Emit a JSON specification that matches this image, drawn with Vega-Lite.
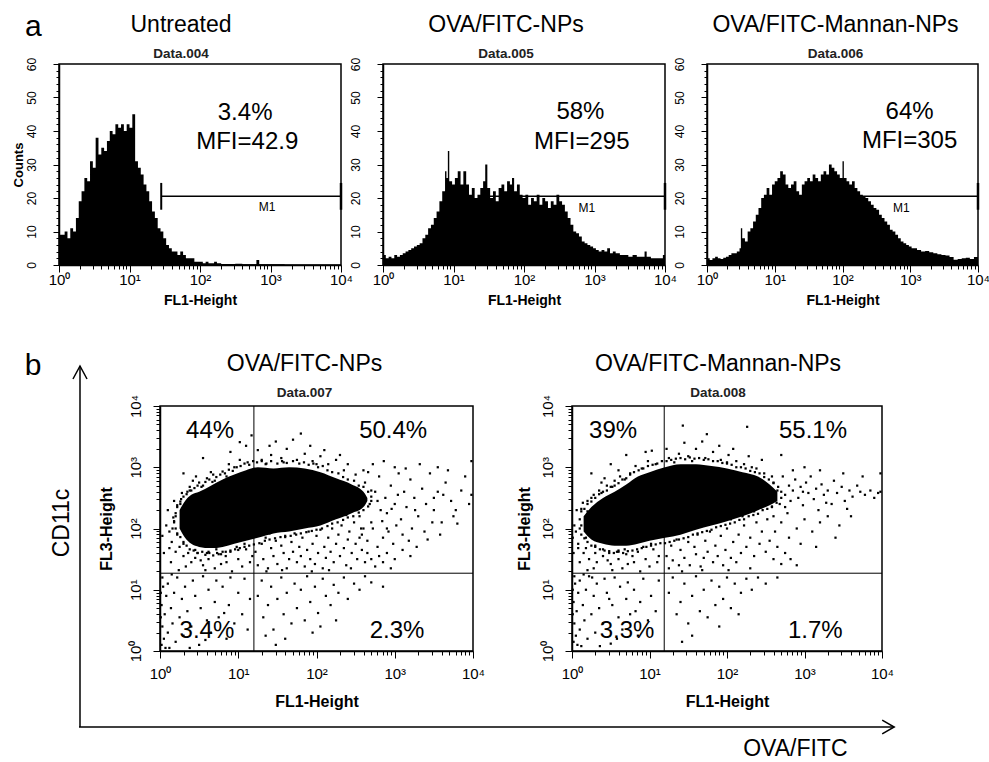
{
"$schema": "https://vega.github.io/schema/vega-lite/v6.json",
"padding": {"left": 11, "top": 12, "right": 2, "bottom": 0},
"config": {
 "font": "Liberation Sans",
 "mark": {"color": "black"},
 "view": {"stroke": "black", "strokeWidth": 1.5},
 "axis": {"domainColor": "black", "domainWidth": 1.5, "tickColor": "black", "tickWidth": 1, "labelColor": "black", "titleColor": "black", "grid": false, "labelFont": "Liberation Sans", "titleFont": "Liberation Sans", "labelFontSize": 15, "labelOverlap": false, "labelFlush": false},
 "title": {"font": "Liberation Sans", "fontSize": 23, "fontWeight": "normal", "color": "black", "subtitleFont": "Liberation Sans", "subtitleFontSize": 13.5, "subtitleFontWeight": "bold", "subtitleColor": "#222", "offset": -3, "subtitlePadding": 10, "anchor": "middle", "frame": "group"}
},
"datasets": {
 "one": [{}],
 "h1": [{"x":0,"c":33},{"x":0.012,"c":9},{"x":0.04,"c":9},{"x":0.08,"c":10},{"x":0.12,"c":8},{"x":0.16,"c":11},{"x":0.2,"c":10},{"x":0.24,"c":14},{"x":0.28,"c":19},{"x":0.32,"c":22},{"x":0.36,"c":26},{"x":0.4,"c":25},{"x":0.44,"c":31},{"x":0.48,"c":29},{"x":0.52,"c":38},{"x":0.56,"c":33},{"x":0.6,"c":35},{"x":0.64,"c":34},{"x":0.68,"c":37},{"x":0.72,"c":40},{"x":0.76,"c":39},{"x":0.8,"c":42},{"x":0.84,"c":41},{"x":0.88,"c":42},{"x":0.92,"c":40},{"x":0.96,"c":42},{"x":1,"c":41},{"x":1.04,"c":45},{"x":1.08,"c":31},{"x":1.12,"c":29},{"x":1.16,"c":27},{"x":1.2,"c":24},{"x":1.24,"c":22},{"x":1.28,"c":19},{"x":1.32,"c":16},{"x":1.36,"c":14},{"x":1.4,"c":11},{"x":1.44,"c":10},{"x":1.48,"c":8},{"x":1.52,"c":6},{"x":1.56,"c":5},{"x":1.6,"c":4},{"x":1.64,"c":4},{"x":1.68,"c":3},{"x":1.72,"c":4},{"x":1.76,"c":3},{"x":1.8,"c":2},{"x":1.84,"c":2},{"x":1.88,"c":2},{"x":1.92,"c":1},{"x":1.96,"c":1},{"x":2,"c":1},{"x":2.04,"c":0.5},{"x":2.08,"c":1},{"x":2.12,"c":0.5},{"x":2.2,"c":1},{"x":2.24,"c":0.5},{"x":2.3,"c":0.3},{"x":2.5,"c":0.4},{"x":2.6,"c":0.2},{"x":2.8,"c":1.5},{"x":2.84,"c":0.2},{"x":3.2,"c":0.1},{"x":4,"c":0}],
 "h2": [{"x":0,"c":3},{"x":0.04,"c":2},{"x":0.08,"c":2.5},{"x":0.12,"c":2},{"x":0.16,"c":3},{"x":0.2,"c":2.5},{"x":0.24,"c":3},{"x":0.28,"c":3.5},{"x":0.32,"c":4},{"x":0.36,"c":4.5},{"x":0.4,"c":5},{"x":0.44,"c":5.5},{"x":0.48,"c":6},{"x":0.52,"c":6.5},{"x":0.56,"c":8},{"x":0.6,"c":9},{"x":0.64,"c":11},{"x":0.68,"c":12},{"x":0.72,"c":14},{"x":0.76,"c":16},{"x":0.8,"c":19},{"x":0.84,"c":22},{"x":0.88,"c":28},{"x":0.9,"c":26},{"x":0.92,"c":34},{"x":0.94,"c":25},{"x":0.98,"c":24},{"x":1.02,"c":26},{"x":1.06,"c":28},{"x":1.1,"c":24},{"x":1.14,"c":28},{"x":1.18,"c":24},{"x":1.22,"c":21},{"x":1.26,"c":23},{"x":1.3,"c":20},{"x":1.34,"c":21},{"x":1.38,"c":23},{"x":1.42,"c":25},{"x":1.45,"c":30},{"x":1.48,"c":23},{"x":1.52,"c":20},{"x":1.56,"c":22},{"x":1.6,"c":19},{"x":1.64,"c":23},{"x":1.68,"c":24},{"x":1.72,"c":22},{"x":1.76,"c":25},{"x":1.8,"c":24},{"x":1.83,"c":26},{"x":1.86,"c":22},{"x":1.9,"c":24},{"x":1.94,"c":21},{"x":1.98,"c":20},{"x":2.02,"c":21},{"x":2.06,"c":18},{"x":2.1,"c":20},{"x":2.14,"c":19},{"x":2.18,"c":21},{"x":2.22,"c":18},{"x":2.26,"c":20},{"x":2.3,"c":19},{"x":2.34,"c":17},{"x":2.38,"c":19},{"x":2.42,"c":18},{"x":2.46,"c":21},{"x":2.5,"c":19},{"x":2.54,"c":18},{"x":2.58,"c":16},{"x":2.62,"c":14},{"x":2.66,"c":12},{"x":2.7,"c":10},{"x":2.74,"c":9.5},{"x":2.78,"c":8.5},{"x":2.82,"c":7},{"x":2.86,"c":6.5},{"x":2.9,"c":6},{"x":2.94,"c":5.5},{"x":2.98,"c":5},{"x":3.02,"c":4.5},{"x":3.06,"c":4},{"x":3.1,"c":4.5},{"x":3.14,"c":4},{"x":3.18,"c":5},{"x":3.22,"c":3.5},{"x":3.26,"c":4},{"x":3.3,"c":3.5},{"x":3.36,"c":3},{"x":3.42,"c":3},{"x":3.48,"c":2.5},{"x":3.54,"c":3},{"x":3.6,"c":2.5},{"x":3.66,"c":2.5},{"x":3.71,"c":4},{"x":3.74,"c":2.5},{"x":3.8,"c":2},{"x":3.86,"c":2},{"x":3.92,"c":2},{"x":3.97,"c":3},{"x":4,"c":3}],
 "h3": [{"x":0,"c":2},{"x":0.04,"c":1.5},{"x":0.08,"c":2},{"x":0.12,"c":2.5},{"x":0.16,"c":2},{"x":0.2,"c":1.8},{"x":0.24,"c":2.2},{"x":0.28,"c":2.5},{"x":0.32,"c":3},{"x":0.36,"c":3.5},{"x":0.4,"c":3.5},{"x":0.44,"c":4},{"x":0.48,"c":5},{"x":0.5,"c":11},{"x":0.52,"c":8},{"x":0.56,"c":7},{"x":0.6,"c":10},{"x":0.64,"c":11},{"x":0.68,"c":13},{"x":0.72,"c":15},{"x":0.76,"c":17},{"x":0.8,"c":20},{"x":0.84,"c":21},{"x":0.88,"c":23},{"x":0.92,"c":21},{"x":0.96,"c":24},{"x":1,"c":25},{"x":1.04,"c":26},{"x":1.08,"c":28},{"x":1.12,"c":27},{"x":1.16,"c":24},{"x":1.2,"c":23},{"x":1.24,"c":24},{"x":1.28,"c":25},{"x":1.32,"c":22},{"x":1.36,"c":21},{"x":1.4,"c":24},{"x":1.44,"c":25},{"x":1.48,"c":26},{"x":1.52,"c":25},{"x":1.56,"c":27},{"x":1.6,"c":26},{"x":1.64,"c":25},{"x":1.68,"c":27},{"x":1.72,"c":28},{"x":1.76,"c":27},{"x":1.8,"c":30},{"x":1.84,"c":29},{"x":1.88,"c":28},{"x":1.92,"c":27},{"x":1.96,"c":26},{"x":2,"c":31},{"x":2.02,"c":26},{"x":2.06,"c":25},{"x":2.1,"c":24},{"x":2.14,"c":25},{"x":2.18,"c":23},{"x":2.22,"c":22},{"x":2.26,"c":21},{"x":2.3,"c":20.5},{"x":2.34,"c":20},{"x":2.38,"c":19},{"x":2.42,"c":18},{"x":2.46,"c":17},{"x":2.5,"c":16.5},{"x":2.54,"c":15},{"x":2.58,"c":14},{"x":2.62,"c":13},{"x":2.66,"c":12},{"x":2.7,"c":10.5},{"x":2.74,"c":10},{"x":2.78,"c":9},{"x":2.82,"c":8},{"x":2.86,"c":7},{"x":2.9,"c":6.5},{"x":2.94,"c":6},{"x":2.98,"c":5.5},{"x":3.02,"c":5},{"x":3.06,"c":5},{"x":3.1,"c":4.5},{"x":3.16,"c":4},{"x":3.22,"c":4.2},{"x":3.28,"c":3.8},{"x":3.34,"c":3.5},{"x":3.4,"c":3.2},{"x":3.46,"c":3},{"x":3.52,"c":2.8},{"x":3.58,"c":2.4},{"x":3.64,"c":1.6},{"x":3.7,"c":1.8},{"x":3.76,"c":2},{"x":3.82,"c":2.2},{"x":3.88,"c":1.8},{"x":3.94,"c":2.4},{"x":4,"c":2.5}],
 "b1": [{"x":0.25,"lo":2.0,"hi":2.3},{"x":0.32,"lo":1.85,"hi":2.45},{"x":0.4,"lo":1.75,"hi":2.55},{"x":0.5,"lo":1.7,"hi":2.6},{"x":0.65,"lo":1.68,"hi":2.7},{"x":0.8,"lo":1.7,"hi":2.8},{"x":0.95,"lo":1.75,"hi":2.88},{"x":1.1,"lo":1.8,"hi":2.95},{"x":1.25,"lo":1.85,"hi":3.0},{"x":1.45,"lo":1.92,"hi":2.98},{"x":1.65,"lo":1.95,"hi":3.0},{"x":1.85,"lo":2.0,"hi":2.98},{"x":2.05,"lo":2.05,"hi":2.92},{"x":2.25,"lo":2.15,"hi":2.82},{"x":2.45,"lo":2.25,"hi":2.72},{"x":2.6,"lo":2.35,"hi":2.6},{"x":2.65,"lo":2.45,"hi":2.5}],
 "b2": [{"x":0.15,"lo":1.95,"hi":2.2},{"x":0.25,"lo":1.82,"hi":2.35},{"x":0.4,"lo":1.75,"hi":2.5},{"x":0.55,"lo":1.72,"hi":2.6},{"x":0.7,"lo":1.72,"hi":2.72},{"x":0.85,"lo":1.75,"hi":2.85},{"x":1.0,"lo":1.8,"hi":2.92},{"x":1.2,"lo":1.85,"hi":3.0},{"x":1.4,"lo":1.9,"hi":3.05},{"x":1.6,"lo":1.98,"hi":3.05},{"x":1.8,"lo":2.05,"hi":3.02},{"x":2.0,"lo":2.12,"hi":2.98},{"x":2.2,"lo":2.2,"hi":2.92},{"x":2.4,"lo":2.3,"hi":2.85},{"x":2.55,"lo":2.38,"hi":2.72},{"x":2.65,"lo":2.45,"hi":2.6}],
 "s1": [{"x":0.12,"y":1.95},{"x":0.18,"y":2.12},{"x":0.15,"y":1.78},{"x":0.22,"y":2.35},{"x":0.2,"y":1.62},{"x":0.08,"y":2.05},{"x":0.27,"y":2.48},{"x":0.3,"y":1.55},{"x":0.25,"y":1.7},{"x":0.35,"y":2.6},{"x":0.4,"y":1.45},{"x":0.38,"y":2.68},{"x":0.45,"y":1.52},{"x":0.5,"y":2.75},{"x":0.55,"y":1.4},{"x":0.48,"y":1.6},{"x":0.6,"y":2.82},{"x":0.62,"y":1.5},{"x":0.7,"y":1.35},{"x":0.68,"y":2.88},{"x":0.75,"y":1.58},{"x":0.8,"y":2.93},{"x":0.85,"y":1.45},{"x":0.9,"y":1.62},{"x":0.95,"y":3.0},{"x":1.0,"y":1.5},{"x":1.05,"y":1.38},{"x":1.1,"y":1.66},{"x":1.12,"y":3.08},{"x":1.18,"y":1.55},{"x":0.14,"y":1.45},{"x":0.05,"y":1.6},{"x":0.1,"y":2.3},{"x":0.03,"y":1.88},{"x":0.33,"y":1.38},{"x":0.58,"y":1.32},{"x":0.78,"y":1.42},{"x":0.92,"y":1.3},{"x":1.02,"y":3.12},{"x":0.88,"y":3.05},{"x":0.65,"y":2.92},{"x":0.42,"y":2.78},{"x":0.28,"y":2.58},{"x":0.18,"y":2.45},{"x":0.52,"y":1.48},{"x":0.72,"y":1.66},{"x":0.98,"y":1.7},{"x":1.15,"y":1.45},{"x":0.24,"y":1.32},{"x":0.46,"y":2.85},{"x":0.36,"y":1.6},{"x":0.84,"y":1.55},{"x":1.08,"y":1.75},{"x":0.12,"y":1.68},{"x":0.62,"y":1.62},{"x":0.55,"y":3.15},{"x":0.9,"y":3.25},{"x":0.3,"y":2.9},{"x":1.1,"y":3.35},{"x":1.17,"y":3.52},{"x":1.02,"y":3.41},{"x":0.2,"y":2.2},{"x":0.22,"y":1.9},{"x":0.26,"y":2.4},{"x":0.3,"y":1.75},{"x":0.16,"y":2.0},{"x":0.4,"y":2.62},{"x":0.55,"y":2.7},{"x":0.7,"y":2.78},{"x":0.85,"y":2.85},{"x":0.45,"y":1.65},{"x":0.6,"y":1.6},{"x":0.8,"y":1.62},{"x":1.0,"y":1.65},
 {"x":1.3,"y":3.12},{"x":1.42,"y":3.2},{"x":1.55,"y":3.15},{"x":1.62,"y":3.3},{"x":1.75,"y":3.12},{"x":1.85,"y":3.22},{"x":1.95,"y":3.1},{"x":2.05,"y":3.18},{"x":2.15,"y":3.05},{"x":2.25,"y":3.12},{"x":2.35,"y":2.95},{"x":1.48,"y":3.42},{"x":1.7,"y":3.45},{"x":1.92,"y":3.35},{"x":2.1,"y":3.28},{"x":2.4,"y":3.05},{"x":1.35,"y":3.05},{"x":2.5,"y":2.88},{"x":1.25,"y":3.28},{"x":1.8,"y":3.55},{"x":2.0,"y":3.05},{"x":1.58,"y":3.08},{"x":2.3,"y":3.2},{"x":2.6,"y":2.95},{"x":1.4,"y":3.35},
 {"x":2.55,"y":2.2},{"x":2.62,"y":2.75},{"x":2.68,"y":2.4},{"x":2.7,"y":2.1},{"x":2.75,"y":2.6},{"x":2.8,"y":2.85},{"x":2.82,"y":2.3},{"x":2.88,"y":2.5},{"x":2.9,"y":2.0},{"x":2.95,"y":2.7},{"x":3.0,"y":2.4},{"x":3.05,"y":2.9},{"x":3.08,"y":2.15},{"x":3.12,"y":2.6},{"x":3.15,"y":2.35},{"x":3.2,"y":2.8},{"x":3.25,"y":2.5},{"x":3.3,"y":2.2},{"x":3.35,"y":2.65},{"x":3.4,"y":2.4},{"x":3.45,"y":2.9},{"x":3.5,"y":2.3},{"x":3.55,"y":2.6},{"x":3.6,"y":2.1},{"x":3.65,"y":2.75},{"x":3.72,"y":2.45},{"x":3.78,"y":2.3},{"x":3.85,"y":2.62},{"x":3.9,"y":2.85},{"x":3.95,"y":2.4},{"x":2.58,"y":1.9},{"x":2.65,"y":1.8},{"x":2.72,"y":2.0},{"x":2.78,"y":1.7},{"x":2.85,"y":1.85},{"x":2.92,"y":1.95},{"x":2.98,"y":1.75},{"x":3.02,"y":2.05},{"x":3.1,"y":1.9},{"x":3.18,"y":1.8},{"x":3.22,"y":2.0},{"x":3.28,"y":1.7},{"x":3.38,"y":1.95},{"x":3.42,"y":1.82},{"x":3.48,"y":2.1},{"x":3.58,"y":1.9},{"x":2.6,"y":2.55},{"x":2.66,"y":2.92},{"x":2.72,"y":3.05},{"x":2.86,"y":3.1},{"x":3.0,"y":3.0},{"x":3.14,"y":2.98},{"x":3.32,"y":3.05},{"x":3.55,"y":3.0},{"x":3.68,"y":2.95},{"x":3.8,"y":2.08},{"x":2.9,"y":2.25},{"x":3.04,"y":2.55},{"x":2.78,"y":2.45},{"x":2.84,"y":2.12},{"x":2.96,"y":2.32},{"x":3.26,"y":2.3},{"x":3.5,"y":2.5},{"x":3.62,"y":2.55},{"x":3.75,"y":2.2},{"x":2.52,"y":2.45},{"x":2.57,"y":2.0},{"x":2.7,"y":2.62},{"x":3.98,"y":3.1},{"x":3.98,"y":2.55},
 {"x":1.22,"y":1.62},{"x":1.25,"y":1.4},{"x":1.3,"y":1.75},{"x":1.32,"y":1.5},{"x":1.35,"y":1.85},{"x":1.38,"y":1.35},{"x":1.42,"y":1.68},{"x":1.45,"y":1.55},{"x":1.48,"y":1.8},{"x":1.5,"y":1.42},{"x":1.55,"y":1.72},{"x":1.58,"y":1.6},{"x":1.6,"y":1.88},{"x":1.62,"y":1.35},{"x":1.65,"y":1.5},{"x":1.68,"y":1.78},{"x":1.7,"y":1.62},{"x":1.72,"y":1.92},{"x":1.75,"y":1.45},{"x":1.78,"y":1.7},{"x":1.8,"y":1.55},{"x":1.82,"y":1.85},{"x":1.85,"y":1.38},{"x":1.88,"y":1.65},{"x":1.9,"y":1.95},{"x":1.92,"y":1.5},{"x":1.95,"y":1.75},{"x":1.98,"y":1.42},{"x":2.0,"y":1.88},{"x":2.02,"y":1.6},{"x":2.05,"y":1.98},{"x":2.08,"y":1.35},{"x":2.1,"y":1.7},{"x":2.12,"y":1.52},{"x":2.15,"y":1.85},{"x":2.18,"y":1.62},{"x":2.2,"y":2.0},{"x":2.22,"y":1.45},{"x":2.25,"y":1.75},{"x":2.28,"y":1.9},{"x":2.3,"y":1.55},{"x":2.32,"y":2.05},{"x":2.35,"y":1.68},{"x":2.38,"y":1.4},{"x":2.4,"y":1.82},{"x":2.42,"y":1.95},{"x":2.45,"y":1.6},{"x":2.48,"y":2.1},{"x":2.5,"y":1.75},{"x":2.52,"y":1.5},{"x":2.55,"y":1.85},{"x":2.58,"y":1.65},{"x":2.6,"y":2.0},{"x":2.62,"y":1.45},{"x":2.65,"y":1.6},{"x":2.7,"y":1.5},{"x":2.75,"y":1.38},{"x":2.8,"y":1.55},{"x":2.85,"y":1.45},{"x":1.28,"y":1.95},{"x":1.4,"y":1.92},{"x":1.52,"y":2.0},{"x":1.64,"y":2.02},{"x":1.76,"y":2.05},{"x":1.88,"y":2.1},{"x":2.0,"y":2.12},{"x":2.14,"y":2.15},{"x":2.26,"y":2.2},{"x":2.38,"y":2.22},{"x":1.36,"y":1.3},{"x":1.56,"y":1.32},{"x":1.94,"y":1.3},{"x":2.16,"y":1.32},{"x":2.44,"y":1.35},{"x":2.9,"y":1.6},{"x":3.0,"y":1.5},{"x":3.1,"y":1.65},{"x":2.95,"y":1.35},{"x":3.2,"y":1.55},
 {"x":0.02,"y":0.1},{"x":0.03,"y":0.4},{"x":0.02,"y":0.75},{"x":0.04,"y":1.05},{"x":0.05,"y":0.2},{"x":0.06,"y":0.6},{"x":0.08,"y":0.9},{"x":0.03,"y":1.2},{"x":0.1,"y":0.3},{"x":0.12,"y":0.05},{"x":0.14,"y":0.7},{"x":0.1,"y":1.1},{"x":0.16,"y":0.45},{"x":0.18,"y":0.95},{"x":0.2,"y":0.15},{"x":0.22,"y":1.2},{"x":0.25,"y":0.55},{"x":0.28,"y":0.85},{"x":0.3,"y":0.25},{"x":0.32,"y":1.05},{"x":0.35,"y":0.65},{"x":0.4,"y":0.4},{"x":0.42,"y":1.15},{"x":0.45,"y":0.9},{"x":0.5,"y":0.1},{"x":0.52,"y":0.7},{"x":0.55,"y":1.22},{"x":0.6,"y":0.5},{"x":0.62,"y":1.0},{"x":0.65,"y":0.3},{"x":0.7,"y":0.8},{"x":0.72,"y":1.15},{"x":0.75,"y":0.55},{"x":0.8,"y":1.05},{"x":0.85,"y":0.2},{"x":0.88,"y":0.75},{"x":0.9,"y":1.2},{"x":0.95,"y":0.45},{"x":1.0,"y":0.95},{"x":1.05,"y":0.6},{"x":1.08,"y":1.18},{"x":1.12,"y":0.35},{"x":1.15,"y":0.85},{"x":0.01,"y":0.55},{"x":0.01,"y":0.95},{"x":0.07,"y":0.05},{"x":0.15,"y":1.25},{"x":0.38,"y":0.05},{"x":0.58,"y":0.18},{"x":0.82,"y":0.62},
 {"x":1.25,"y":0.9},{"x":1.3,"y":1.15},{"x":1.32,"y":0.55},{"x":1.38,"y":0.75},{"x":1.42,"y":1.05},{"x":1.45,"y":0.35},{"x":1.5,"y":0.85},{"x":1.55,"y":1.2},{"x":1.58,"y":0.6},{"x":1.62,"y":0.95},{"x":1.68,"y":0.45},{"x":1.72,"y":1.1},{"x":1.75,"y":0.7},{"x":1.8,"y":1.0},{"x":1.85,"y":0.5},{"x":1.88,"y":1.22},{"x":1.92,"y":0.8},{"x":1.98,"y":1.05},{"x":2.02,"y":0.62},{"x":2.08,"y":1.18},{"x":2.12,"y":0.9},{"x":2.18,"y":0.75},{"x":2.22,"y":1.08},{"x":2.28,"y":0.95},{"x":2.35,"y":1.2},{"x":2.4,"y":0.85},{"x":2.48,"y":1.1},{"x":2.55,"y":1.0},{"x":2.62,"y":1.22},{"x":2.7,"y":1.12},{"x":1.95,"y":0.3},{"x":1.6,"y":0.2},{"x":2.25,"y":0.5},{"x":1.48,"y":0.1},{"x":2.05,"y":0.4},{"x":2.85,"y":1.05},{"x":1.35,"y":0.25},
 {"x":0.22,"y":2.38},{"x":0.26,"y":2.44},{"x":0.3,"y":2.52},{"x":0.34,"y":2.56},{"x":0.38,"y":2.62},{"x":0.44,"y":2.66},{"x":0.48,"y":2.7},{"x":0.53,"y":2.68},{"x":0.58,"y":2.76},{"x":0.63,"y":2.8},{"x":0.67,"y":2.76},{"x":0.72,"y":2.84},{"x":0.77,"y":2.88},{"x":0.83,"y":2.9},{"x":0.88,"y":2.96},{"x":0.93,"y":2.94},{"x":0.98,"y":3.0},{"x":1.03,"y":3.02},{"x":1.08,"y":3.06},{"x":1.14,"y":3.04},{"x":1.19,"y":3.1},{"x":1.24,"y":3.08},{"x":1.3,"y":3.1},{"x":1.36,"y":3.06},{"x":1.42,"y":3.1},{"x":1.5,"y":3.06},{"x":1.56,"y":3.1},{"x":1.62,"y":3.07},{"x":1.7,"y":3.1},{"x":1.78,"y":3.06},{"x":1.84,"y":3.08},{"x":1.9,"y":3.04},{"x":1.96,"y":3.06},{"x":2.02,"y":3.0},{"x":2.08,"y":3.02},{"x":2.14,"y":2.95},{"x":2.2,"y":2.92},{"x":2.28,"y":2.9},{"x":2.34,"y":2.84},{"x":2.4,"y":2.8},{"x":2.48,"y":2.78},{"x":2.54,"y":2.7},{"x":2.6,"y":2.68},{"x":2.66,"y":2.6},{"x":2.7,"y":2.52},
 {"x":0.2,"y":2.0},{"x":0.22,"y":1.92},{"x":0.26,"y":1.86},{"x":0.3,"y":1.78},{"x":0.34,"y":1.72},{"x":0.38,"y":1.66},{"x":0.43,"y":1.64},{"x":0.48,"y":1.6},{"x":0.54,"y":1.62},{"x":0.58,"y":1.57},{"x":0.63,"y":1.6},{"x":0.68,"y":1.56},{"x":0.73,"y":1.6},{"x":0.78,"y":1.58},{"x":0.84,"y":1.62},{"x":0.9,"y":1.64},{"x":0.96,"y":1.66},{"x":1.02,"y":1.68},{"x":1.08,"y":1.7},{"x":1.14,"y":1.72},{"x":1.2,"y":1.74},{"x":1.27,"y":1.76},{"x":1.34,"y":1.8},{"x":1.4,"y":1.82},{"x":1.47,"y":1.84},{"x":1.54,"y":1.86},{"x":1.6,"y":1.86},{"x":1.67,"y":1.88},{"x":1.74,"y":1.9},{"x":1.8,"y":1.92},{"x":1.87,"y":1.94},{"x":1.94,"y":1.96},{"x":2.0,"y":1.98},{"x":2.07,"y":2.0},{"x":2.14,"y":2.04},{"x":2.2,"y":2.08},{"x":2.27,"y":2.1},{"x":2.34,"y":2.14},{"x":2.4,"y":2.18},{"x":2.47,"y":2.2},{"x":2.54,"y":2.26},{"x":2.6,"y":2.3},{"x":2.66,"y":2.36},{"x":2.7,"y":2.45},{"x":0.18,"y":2.1},{"x":0.2,"y":2.25},{"x":0.17,"y":2.18}],
 "s2": [{"x":0.05,"y":1.95},{"x":0.1,"y":2.15},{"x":0.08,"y":1.75},{"x":0.12,"y":2.32},{"x":0.15,"y":1.6},{"x":0.03,"y":2.05},{"x":0.2,"y":2.45},{"x":0.22,"y":1.5},{"x":0.18,"y":1.68},{"x":0.28,"y":2.55},{"x":0.32,"y":1.45},{"x":0.35,"y":2.62},{"x":0.4,"y":1.55},{"x":0.45,"y":2.7},{"x":0.5,"y":1.42},{"x":0.48,"y":1.6},{"x":0.55,"y":2.78},{"x":0.6,"y":1.5},{"x":0.65,"y":1.35},{"x":0.62,"y":2.85},{"x":0.7,"y":1.58},{"x":0.75,"y":2.9},{"x":0.8,"y":1.45},{"x":0.85,"y":1.62},{"x":0.9,"y":2.98},{"x":0.95,"y":1.5},{"x":1.0,"y":1.38},{"x":1.05,"y":1.66},{"x":1.08,"y":3.05},{"x":1.12,"y":1.55},{"x":0.1,"y":1.45},{"x":0.02,"y":1.6},{"x":0.06,"y":2.3},{"x":0.01,"y":1.85},{"x":0.28,"y":1.35},{"x":0.52,"y":1.32},{"x":0.72,"y":1.42},{"x":0.88,"y":1.3},{"x":0.98,"y":3.1},{"x":0.82,"y":3.02},{"x":0.6,"y":2.95},{"x":0.38,"y":2.75},{"x":0.25,"y":2.5},{"x":0.14,"y":2.42},{"x":0.46,"y":1.48},{"x":0.68,"y":1.66},{"x":0.92,"y":1.7},{"x":1.1,"y":1.45},{"x":0.2,"y":1.32},{"x":0.42,"y":2.82},{"x":0.3,"y":1.6},{"x":0.78,"y":1.55},{"x":1.02,"y":1.75},{"x":0.08,"y":1.68},{"x":0.58,"y":1.62},{"x":0.25,"y":2.9},{"x":0.5,"y":3.05},{"x":0.7,"y":3.2},{"x":0.95,"y":3.25},{"x":0.12,"y":2.05},{"x":0.18,"y":1.85},{"x":0.2,"y":2.28},{"x":0.3,"y":1.72},{"x":0.38,"y":2.58},{"x":0.52,"y":2.68},{"x":0.68,"y":2.8},{"x":0.4,"y":1.66},{"x":0.6,"y":1.64},
 {"x":1.25,"y":3.15},{"x":1.38,"y":3.22},{"x":1.5,"y":3.18},{"x":1.6,"y":3.3},{"x":1.72,"y":3.15},{"x":1.82,"y":3.25},{"x":1.92,"y":3.12},{"x":2.02,"y":3.2},{"x":2.12,"y":3.1},{"x":2.22,"y":3.05},{"x":2.32,"y":3.0},{"x":1.45,"y":3.4},{"x":1.68,"y":3.42},{"x":1.9,"y":3.35},{"x":2.08,"y":3.3},{"x":2.38,"y":2.98},{"x":1.32,"y":3.08},{"x":2.48,"y":2.9},{"x":1.22,"y":3.3},{"x":1.43,"y":3.68},{"x":1.74,"y":3.54},{"x":2.26,"y":3.66},{"x":1.03,"y":3.27},{"x":2.0,"y":3.08},{"x":1.55,"y":3.1},{"x":2.28,"y":3.18},{"x":2.58,"y":2.85},{"x":2.45,"y":3.12},{"x":2.7,"y":3.2},
 {"x":2.55,"y":2.5},{"x":2.6,"y":2.75},{"x":2.65,"y":2.62},{"x":2.68,"y":2.4},{"x":2.72,"y":2.85},{"x":2.75,"y":2.55},{"x":2.8,"y":2.7},{"x":2.82,"y":2.45},{"x":2.85,"y":2.62},{"x":2.88,"y":2.8},{"x":2.92,"y":2.5},{"x":2.95,"y":2.68},{"x":2.98,"y":2.38},{"x":3.02,"y":2.75},{"x":3.05,"y":2.58},{"x":3.08,"y":2.85},{"x":3.12,"y":2.48},{"x":3.15,"y":2.65},{"x":3.18,"y":2.3},{"x":3.22,"y":2.72},{"x":3.25,"y":2.55},{"x":3.3,"y":2.62},{"x":3.35,"y":2.4},{"x":3.38,"y":2.78},{"x":3.42,"y":2.58},{"x":3.48,"y":2.68},{"x":3.52,"y":2.45},{"x":3.58,"y":2.62},{"x":3.62,"y":2.52},{"x":3.68,"y":2.7},{"x":3.72,"y":2.6},{"x":3.78,"y":2.55},{"x":3.85,"y":2.62},{"x":3.9,"y":2.5},{"x":3.95,"y":2.58},{"x":2.6,"y":2.2},{"x":2.7,"y":2.1},{"x":2.78,"y":2.25},{"x":2.9,"y":2.0},{"x":3.0,"y":2.15},{"x":3.1,"y":1.95},{"x":3.2,"y":2.1},{"x":3.3,"y":2.2},{"x":3.45,"y":2.05},{"x":3.6,"y":2.2},{"x":2.62,"y":1.95},{"x":2.8,"y":1.85},{"x":2.95,"y":1.75},{"x":3.15,"y":1.7},{"x":3.4,"y":1.85},{"x":2.85,"y":2.95},{"x":3.0,"y":3.0},{"x":3.2,"y":2.95},{"x":3.5,"y":2.9},{"x":3.75,"y":2.85},{"x":2.58,"y":2.35},{"x":2.75,"y":2.35},{"x":2.98,"y":2.6},{"x":3.28,"y":2.42},{"x":3.55,"y":2.32},{"x":3.98,"y":2.6},{"x":3.98,"y":2.9},
 {"x":1.22,"y":1.55},{"x":1.25,"y":1.35},{"x":1.28,"y":1.72},{"x":1.3,"y":1.48},{"x":1.35,"y":1.82},{"x":1.38,"y":1.4},{"x":1.4,"y":1.65},{"x":1.45,"y":1.52},{"x":1.5,"y":1.78},{"x":1.52,"y":1.4},{"x":1.58,"y":1.7},{"x":1.6,"y":1.58},{"x":1.62,"y":1.9},{"x":1.66,"y":1.38},{"x":1.7,"y":1.52},{"x":1.72,"y":1.8},{"x":1.75,"y":1.62},{"x":1.78,"y":1.95},{"x":1.82,"y":1.45},{"x":1.85,"y":1.72},{"x":1.88,"y":1.55},{"x":1.92,"y":1.88},{"x":1.95,"y":1.4},{"x":1.98,"y":1.65},{"x":2.0,"y":2.0},{"x":2.05,"y":1.52},{"x":2.08,"y":1.78},{"x":2.12,"y":1.45},{"x":2.15,"y":1.9},{"x":2.18,"y":1.6},{"x":2.22,"y":2.05},{"x":2.25,"y":1.7},{"x":2.3,"y":1.85},{"x":2.35,"y":1.55},{"x":2.38,"y":2.1},{"x":2.42,"y":1.75},{"x":2.45,"y":1.95},{"x":2.5,"y":1.62},{"x":2.52,"y":2.15},{"x":2.55,"y":1.8},{"x":2.6,"y":1.5},{"x":2.65,"y":1.7},{"x":2.7,"y":1.42},{"x":2.75,"y":1.6},{"x":2.82,"y":1.5},{"x":2.9,"y":1.4},{"x":1.3,"y":1.95},{"x":1.45,"y":2.0},{"x":1.6,"y":2.02},{"x":1.75,"y":2.08},{"x":1.9,"y":2.12},{"x":2.05,"y":2.15},{"x":2.2,"y":2.2},{"x":2.35,"y":2.28},{"x":1.42,"y":1.3},{"x":1.68,"y":1.32},{"x":2.02,"y":1.32},{"x":2.3,"y":1.35},
 {"x":0.02,"y":0.15},{"x":0.03,"y":0.45},{"x":0.02,"y":0.8},{"x":0.04,"y":1.1},{"x":0.05,"y":0.25},{"x":0.06,"y":0.65},{"x":0.08,"y":0.95},{"x":0.03,"y":1.22},{"x":0.1,"y":0.35},{"x":0.12,"y":0.08},{"x":0.14,"y":0.75},{"x":0.1,"y":1.15},{"x":0.16,"y":0.5},{"x":0.18,"y":1.0},{"x":0.2,"y":0.2},{"x":0.22,"y":1.22},{"x":0.25,"y":0.6},{"x":0.28,"y":0.9},{"x":0.3,"y":0.3},{"x":0.32,"y":1.1},{"x":0.35,"y":0.7},{"x":0.4,"y":0.45},{"x":0.42,"y":1.18},{"x":0.45,"y":0.95},{"x":0.5,"y":0.12},{"x":0.52,"y":0.75},{"x":0.55,"y":1.2},{"x":0.6,"y":0.55},{"x":0.62,"y":1.05},{"x":0.65,"y":0.35},{"x":0.7,"y":0.85},{"x":0.72,"y":1.12},{"x":0.75,"y":0.6},{"x":0.8,"y":1.0},{"x":0.85,"y":0.25},{"x":0.88,"y":0.8},{"x":0.92,"y":1.18},{"x":0.98,"y":0.5},{"x":1.02,"y":0.9},{"x":1.08,"y":0.65},{"x":1.12,"y":1.15},{"x":0.01,"y":0.6},{"x":0.01,"y":1.0},{"x":0.07,"y":0.1},{"x":0.15,"y":1.25},{"x":0.36,"y":0.08},{"x":0.58,"y":0.2},{"x":0.82,"y":0.65},{"x":0.48,"y":0.85},{"x":0.26,"y":1.2},
 {"x":1.25,"y":0.95},{"x":1.3,"y":1.2},{"x":1.35,"y":0.6},{"x":1.4,"y":0.8},{"x":1.45,"y":1.1},{"x":1.5,"y":0.45},{"x":1.55,"y":0.9},{"x":1.6,"y":1.22},{"x":1.65,"y":0.65},{"x":1.7,"y":1.0},{"x":1.75,"y":0.55},{"x":1.8,"y":1.15},{"x":1.85,"y":0.75},{"x":1.9,"y":1.05},{"x":1.95,"y":0.85},{"x":2.0,"y":1.2},{"x":2.05,"y":0.7},{"x":2.1,"y":1.1},{"x":2.18,"y":0.95},{"x":2.25,"y":1.18},{"x":2.32,"y":1.0},{"x":2.4,"y":1.2},{"x":2.5,"y":1.1},{"x":2.65,"y":1.2},{"x":1.55,"y":0.25},{"x":1.9,"y":0.4},{"x":2.15,"y":0.6},{"x":1.42,"y":0.15},
 {"x":0.12,"y":2.28},{"x":0.16,"y":2.32},{"x":0.2,"y":2.4},{"x":0.25,"y":2.44},{"x":0.3,"y":2.5},{"x":0.35,"y":2.56},{"x":0.4,"y":2.6},{"x":0.45,"y":2.62},{"x":0.5,"y":2.68},{"x":0.55,"y":2.7},{"x":0.6,"y":2.74},{"x":0.65,"y":2.8},{"x":0.7,"y":2.82},{"x":0.75,"y":2.88},{"x":0.8,"y":2.92},{"x":0.86,"y":2.95},{"x":0.92,"y":2.98},{"x":0.98,"y":3.02},{"x":1.04,"y":3.04},{"x":1.1,"y":3.06},{"x":1.16,"y":3.1},{"x":1.22,"y":3.1},{"x":1.28,"y":3.12},{"x":1.34,"y":3.14},{"x":1.4,"y":3.15},{"x":1.46,"y":3.13},{"x":1.52,"y":3.16},{"x":1.58,"y":3.14},{"x":1.64,"y":3.15},{"x":1.7,"y":3.12},{"x":1.76,"y":3.13},{"x":1.82,"y":3.1},{"x":1.88,"y":3.1},{"x":1.94,"y":3.07},{"x":2.0,"y":3.06},{"x":2.06,"y":3.04},{"x":2.12,"y":3.0},{"x":2.18,"y":3.0},{"x":2.24,"y":2.98},{"x":2.3,"y":2.94},{"x":2.36,"y":2.92},{"x":2.42,"y":2.9},{"x":2.48,"y":2.84},{"x":2.54,"y":2.8},{"x":2.6,"y":2.74},{"x":2.66,"y":2.68},{"x":2.7,"y":2.6},
 {"x":0.1,"y":2.0},{"x":0.12,"y":1.9},{"x":0.16,"y":1.84},{"x":0.2,"y":1.78},{"x":0.25,"y":1.72},{"x":0.3,"y":1.7},{"x":0.36,"y":1.66},{"x":0.42,"y":1.64},{"x":0.48,"y":1.63},{"x":0.54,"y":1.6},{"x":0.6,"y":1.62},{"x":0.66,"y":1.6},{"x":0.72,"y":1.63},{"x":0.78,"y":1.64},{"x":0.84,"y":1.66},{"x":0.9,"y":1.68},{"x":0.96,"y":1.7},{"x":1.02,"y":1.72},{"x":1.08,"y":1.74},{"x":1.14,"y":1.76},{"x":1.2,"y":1.76},{"x":1.26,"y":1.78},{"x":1.32,"y":1.8},{"x":1.38,"y":1.82},{"x":1.44,"y":1.84},{"x":1.5,"y":1.86},{"x":1.56,"y":1.9},{"x":1.62,"y":1.92},{"x":1.68,"y":1.94},{"x":1.74,"y":1.96},{"x":1.8,"y":1.98},{"x":1.86,"y":2.02},{"x":1.92,"y":2.04},{"x":1.98,"y":2.06},{"x":2.04,"y":2.08},{"x":2.1,"y":2.1},{"x":2.16,"y":2.14},{"x":2.22,"y":2.15},{"x":2.28,"y":2.2},{"x":2.34,"y":2.22},{"x":2.4,"y":2.24},{"x":2.46,"y":2.3},{"x":2.52,"y":2.32},{"x":2.58,"y":2.36},{"x":2.64,"y":2.42},{"x":2.7,"y":2.5}]
},
"vconcat": [
 {"hconcat": [
  {"width": 4, "height": 201, "view": {"stroke": null},
   "title": {"text": "a", "fontSize": 30, "anchor": "start", "frame": "group", "dx": 12, "offset": 22},
   "data": {"name": "one"}, "mark": {"type": "text", "text": ""}, "encoding": {}},
  {"width": 282, "height": 201,
   "title": {"text": "Untreated", "subtitle": "Data.004", "dx": -19},
   "resolve": {"axis": {"x": "independent", "y": "independent"}},
   "layer": [
    {"data": {"name": "one"}, "mark": {"type": "text", "text": ""},
     "encoding": {"x": {"datum": 0, "axis": {"orient": "bottom", "values": [0.301,0.477,0.602,0.699,0.778,0.845,0.903,0.954,1.301,1.477,1.602,1.699,1.778,1.845,1.903,1.954,2.301,2.477,2.602,2.699,2.778,2.845,2.903,2.954,3.301,3.477,3.602,3.699,3.778,3.845,3.903,3.954], "labels": false, "title": null, "domain": false, "tickSize": 4}},
      "y": {"datum": 0, "axis": {"orient": "left", "values": [2,4,6,8,12,14,16,18,22,24,26,28,32,34,36,38,42,44,46,48,52,54,56,58], "labels": false, "title": null, "domain": false, "tickSize": 3}}}},
    {"data": {"name": "one"}, "mark": {"type": "rule", "strokeWidth": 1.5}, "encoding": {"x": {"datum": 1.45, "axis": null}, "x2": {"datum": 4}, "y": {"datum": 20.5, "axis": null}}},
    {"data": {"name": "one"}, "mark": {"type": "rule", "strokeWidth": 2}, "encoding": {"x": {"datum": 1.45, "axis": null}, "y": {"datum": 16.5, "axis": null}, "y2": {"datum": 24.5}}},
    {"data": {"name": "one"}, "mark": {"type": "rule", "strokeWidth": 2.5}, "encoding": {"x": {"datum": 4, "axis": null}, "y": {"datum": 16.5, "axis": null}, "y2": {"datum": 24.5}}},
    {"data": {"name": "h1"}, "mark": {"type": "area", "interpolate": "step-after"},
     "encoding": {
      "x": {"field": "x", "type": "quantitative", "scale": {"domain": [0, 4], "nice": false, "zero": false},
        "axis": {"orient": "bottom", "title": "FL1-Height", "values": [0,1,2,3,4], "labelExpr": "'10' + ['⁰','¹','²','³','⁴'][datum.value]",
          "tickSize": 7, "labelFontSize": 15, "labelPadding": 0, "titleFontSize": 14, "titleFontWeight": "bold", "titlePadding": 6}},
      "y": {"field": "c", "type": "quantitative", "scale": {"domain": [0, 60], "nice": false},
        "axis": {"orient": "left", "title": "Counts", "values": [0,10,20,30,40,50,60],
          "tickSize": 6, "labelAngle": -90, "labelFontSize": 12, "labelPadding": 15, "titleFontSize": 13, "titleFontWeight": "bold", "titlePadding": 0}}}},
    {"data": {"name": "one"}, "mark": {"type": "text", "text": "M1", "fontSize": 12}, "encoding": {"x": {"datum": 2.95, "axis": null}, "y": {"datum": 17.2, "axis": null}}},
    {"data": {"name": "one"}, "mark": {"type": "text", "text": "3.4%", "fontSize": 24}, "encoding": {"x": {"datum": 2.64, "axis": null}, "y": {"datum": 45.3, "axis": null}}},
    {"data": {"name": "one"}, "mark": {"type": "text", "text": "MFI=42.9", "fontSize": 24}, "encoding": {"x": {"datum": 2.67, "axis": null}, "y": {"datum": 36.8, "axis": null}}}
   ]},
  {"width": 282, "height": 201,
   "title": {"text": "OVA/FITC-NPs", "subtitle": "Data.005", "dx": -18},
   "resolve": {"axis": {"x": "independent", "y": "independent"}},
   "layer": [
    {"data": {"name": "one"}, "mark": {"type": "text", "text": ""},
     "encoding": {"x": {"datum": 0, "axis": {"orient": "bottom", "values": [0.301,0.477,0.602,0.699,0.778,0.845,0.903,0.954,1.301,1.477,1.602,1.699,1.778,1.845,1.903,1.954,2.301,2.477,2.602,2.699,2.778,2.845,2.903,2.954,3.301,3.477,3.602,3.699,3.778,3.845,3.903,3.954], "labels": false, "title": null, "domain": false, "tickSize": 4}},
      "y": {"datum": 0, "axis": {"orient": "left", "values": [2,4,6,8,12,14,16,18,22,24,26,28,32,34,36,38,42,44,46,48,52,54,56,58], "labels": false, "title": null, "domain": false, "tickSize": 3}}}},
    {"data": {"name": "one"}, "mark": {"type": "rule", "strokeWidth": 1.5}, "encoding": {"x": {"datum": 1.45, "axis": null}, "x2": {"datum": 4}, "y": {"datum": 20.5, "axis": null}}},
    {"data": {"name": "one"}, "mark": {"type": "rule", "strokeWidth": 2.5}, "encoding": {"x": {"datum": 4, "axis": null}, "y": {"datum": 16.5, "axis": null}, "y2": {"datum": 24.5}}},
    {"data": {"name": "h2"}, "mark": {"type": "area", "interpolate": "step-after"},
     "encoding": {
      "x": {"field": "x", "type": "quantitative", "scale": {"domain": [0, 4], "nice": false, "zero": false},
        "axis": {"orient": "bottom", "title": "FL1-Height", "values": [0,1,2,3,4], "labelExpr": "'10' + ['⁰','¹','²','³','⁴'][datum.value]",
          "tickSize": 7, "labelFontSize": 15, "labelPadding": 0, "titleFontSize": 14, "titleFontWeight": "bold", "titlePadding": 6}},
      "y": {"field": "c", "type": "quantitative", "scale": {"domain": [0, 60], "nice": false},
        "axis": {"orient": "left", "title": null, "values": [0,10,20,30,40,50,60],
          "tickSize": 6, "labelAngle": -90, "labelFontSize": 12, "labelPadding": 15}}}},
    {"data": {"name": "one"}, "mark": {"type": "text", "text": "M1", "fontSize": 12}, "encoding": {"x": {"datum": 2.89, "axis": null}, "y": {"datum": 16.9, "axis": null}}},
    {"data": {"name": "one"}, "mark": {"type": "text", "text": "58%", "fontSize": 24}, "encoding": {"x": {"datum": 2.8, "axis": null}, "y": {"datum": 45.6, "axis": null}}},
    {"data": {"name": "one"}, "mark": {"type": "text", "text": "MFI=295", "fontSize": 24}, "encoding": {"x": {"datum": 2.82, "axis": null}, "y": {"datum": 36.7, "axis": null}}}
   ]},
  {"width": 271, "height": 201,
   "title": {"text": "OVA/FITC-Mannan-NPs", "subtitle": "Data.006", "dx": -7},
   "resolve": {"axis": {"x": "independent", "y": "independent"}},
   "layer": [
    {"data": {"name": "one"}, "mark": {"type": "text", "text": ""},
     "encoding": {"x": {"datum": 0, "axis": {"orient": "bottom", "values": [0.301,0.477,0.602,0.699,0.778,0.845,0.903,0.954,1.301,1.477,1.602,1.699,1.778,1.845,1.903,1.954,2.301,2.477,2.602,2.699,2.778,2.845,2.903,2.954,3.301,3.477,3.602,3.699,3.778,3.845,3.903,3.954], "labels": false, "title": null, "domain": false, "tickSize": 4}},
      "y": {"datum": 0, "axis": {"orient": "left", "values": [2,4,6,8,12,14,16,18,22,24,26,28,32,34,36,38,42,44,46,48,52,54,56,58], "labels": false, "title": null, "domain": false, "tickSize": 3}}}},
    {"data": {"name": "one"}, "mark": {"type": "rule", "strokeWidth": 1.5}, "encoding": {"x": {"datum": 1.45, "axis": null}, "x2": {"datum": 4}, "y": {"datum": 20.5, "axis": null}}},
    {"data": {"name": "one"}, "mark": {"type": "rule", "strokeWidth": 2.5}, "encoding": {"x": {"datum": 4, "axis": null}, "y": {"datum": 16.5, "axis": null}, "y2": {"datum": 24.5}}},
    {"data": {"name": "h3"}, "mark": {"type": "area", "interpolate": "step-after"},
     "encoding": {
      "x": {"field": "x", "type": "quantitative", "scale": {"domain": [0, 4], "nice": false, "zero": false},
        "axis": {"orient": "bottom", "title": "FL1-Height", "values": [0,1,2,3,4], "labelExpr": "'10' + ['⁰','¹','²','³','⁴'][datum.value]",
          "tickSize": 7, "labelFontSize": 15, "labelPadding": 0, "titleFontSize": 14, "titleFontWeight": "bold", "titlePadding": 6}},
      "y": {"field": "c", "type": "quantitative", "scale": {"domain": [0, 60], "nice": false},
        "axis": {"orient": "left", "title": null, "values": [0,10,20,30,40,50,60],
          "tickSize": 6, "labelAngle": -90, "labelFontSize": 12, "labelPadding": 15}}}},
    {"data": {"name": "one"}, "mark": {"type": "text", "text": "M1", "fontSize": 12}, "encoding": {"x": {"datum": 2.87, "axis": null}, "y": {"datum": 16.9, "axis": null}}},
    {"data": {"name": "one"}, "mark": {"type": "text", "text": "64%", "fontSize": 24}, "encoding": {"x": {"datum": 2.99, "axis": null}, "y": {"datum": 45.6, "axis": null}}},
    {"data": {"name": "one"}, "mark": {"type": "text", "text": "MFI=305", "fontSize": 24}, "encoding": {"x": {"datum": 2.99, "axis": null}, "y": {"datum": 36.9, "axis": null}}}
   ]}
 ], "spacing": 42, "bounds": "flush"},
 {"hconcat": [
  {"width": 48, "height": 245, "view": {"stroke": null},
   "layer": [
    {"data": {"name": "one"}, "mark": {"type": "rule", "strokeWidth": 1.5}, "encoding": {"x": {"datum": -1.022, "scale": {"domain": [-1.879, -1.265], "nice": false, "zero": false}, "axis": null}, "y": {"datum": -1.241, "scale": {"domain": [0, 4], "nice": false, "zero": false}, "axis": null}, "y2": {"datum": 4.653}}},
    {"data": {"name": "one"}, "mark": {"type": "rule", "strokeWidth": 1.5}, "encoding": {"y": {"datum": -1.241, "axis": null}, "x": {"datum": -1.035, "axis": null}, "x2": {"datum": 9.393}}},
    {"data": {"name": "one"}, "mark": {"type": "point", "shape": "M-0.54,1L0,0L0.54,1", "size": 676, "filled": false, "strokeWidth": 1.5, "opacity": 1}, "encoding": {"x": {"datum": -1.022, "axis": null}, "y": {"datum": 4.653, "axis": null}}},
    {"data": {"name": "one"}, "mark": {"type": "point", "shape": "M-1,-0.58L0,0L-1,0.58", "size": 576, "filled": false, "strokeWidth": 1.5, "opacity": 1}, "encoding": {"x": {"datum": 9.393, "axis": null}, "y": {"datum": -1.241, "axis": null}}},
    {"data": {"name": "one"}, "mark": {"type": "text", "text": "b", "fontSize": 30}, "encoding": {"x": {"datum": -1.623, "axis": null}, "y": {"datum": 4.645, "axis": null}}},
    {"data": {"name": "one"}, "mark": {"type": "text", "text": "CD11c", "fontSize": 23, "angle": 270}, "encoding": {"x": {"datum": -1.252, "axis": null}, "y": {"datum": 2.09, "axis": null}}},
    {"data": {"name": "one"}, "mark": {"type": "text", "text": "OVA/FITC", "fontSize": 23}, "encoding": {"x": {"datum": 8.128, "axis": null}, "y": {"datum": -1.6, "axis": null}}}
   ]},
  {"width": 313, "height": 245,
   "title": {"text": "OVA/FITC-NPs", "subtitle": "Data.007", "dx": -12, "offset": -5, "subtitlePadding": 10},
   "resolve": {"axis": {"x": "independent", "y": "independent"}},
   "layer": [
    {"data": {"name": "one"}, "mark": {"type": "text", "text": ""},
     "encoding": {"x": {"datum": 0, "axis": {"orient": "bottom", "values": [0.301,0.477,0.602,0.699,0.778,0.845,0.903,0.954,1.301,1.477,1.602,1.699,1.778,1.845,1.903,1.954,2.301,2.477,2.602,2.699,2.778,2.845,2.903,2.954,3.301,3.477,3.602,3.699,3.778,3.845,3.903,3.954], "labels": false, "title": null, "domain": false, "tickSize": 4}},
      "y": {"datum": 0, "axis": {"orient": "left", "values": [0.301,0.477,0.602,0.699,0.778,0.845,0.903,0.954,1.301,1.477,1.602,1.699,1.778,1.845,1.903,1.954,2.301,2.477,2.602,2.699,2.778,2.845,2.903,2.954,3.301,3.477,3.602,3.699,3.778,3.845,3.903,3.954], "labels": false, "title": null, "domain": false, "tickSize": 4}}}},
    {"data": {"name": "b1"}, "mark": {"type": "area", "interpolate": "monotone"},
     "encoding": {
      "x": {"field": "x", "type": "quantitative", "scale": {"domain": [0, 4], "nice": false, "zero": false},
        "axis": {"orient": "bottom", "title": "FL1-Height", "values": [0,1,2,3,4], "labelExpr": "'10' + ['⁰','¹','²','³','⁴'][datum.value]",
          "tickSize": 7, "labelFontSize": 15, "labelPadding": 8, "titleFontSize": 16, "titleFontWeight": "bold", "titlePadding": 12}},
      "y": {"field": "lo", "type": "quantitative", "scale": {"domain": [0, 4], "nice": false, "zero": false},
        "axis": {"orient": "left", "title": "FL3-Height", "values": [0,1,2,3,4], "labelExpr": "'10' + ['⁰','¹','²','³','⁴'][datum.value]",
          "tickSize": 7, "labelAngle": -90, "labelFontSize": 15, "labelPadding": 10, "titleFontSize": 16, "titleFontWeight": "bold", "titlePadding": 14}},
      "y2": {"field": "hi"}}},
    {"data": {"name": "s1"}, "mark": {"type": "point", "shape": "square", "size": 5, "filled": true, "opacity": 1},
     "encoding": {"x": {"field": "x", "type": "quantitative", "axis": null}, "y": {"field": "y", "type": "quantitative", "axis": null}}},
    {"data": {"name": "one"}, "mark": {"type": "rule", "strokeWidth": 1}, "encoding": {"x": {"datum": 1.2, "axis": null}, "y": {"datum": 0, "axis": null}, "y2": {"datum": 4}}},
    {"data": {"name": "one"}, "mark": {"type": "rule", "strokeWidth": 1}, "encoding": {"y": {"datum": 1.27, "axis": null}, "x": {"datum": 0, "axis": null}, "x2": {"datum": 4}}},
    {"data": {"name": "one"}, "mark": {"type": "text", "text": "44%", "fontSize": 24}, "encoding": {"x": {"datum": 0.64, "axis": null}, "y": {"datum": 3.6, "axis": null}}},
    {"data": {"name": "one"}, "mark": {"type": "text", "text": "50.4%", "fontSize": 24}, "encoding": {"x": {"datum": 2.98, "axis": null}, "y": {"datum": 3.6, "axis": null}}},
    {"data": {"name": "one"}, "mark": {"type": "text", "text": "3.4%", "fontSize": 24}, "encoding": {"x": {"datum": 0.6, "axis": null}, "y": {"datum": 0.33, "axis": null}}},
    {"data": {"name": "one"}, "mark": {"type": "text", "text": "2.3%", "fontSize": 24}, "encoding": {"x": {"datum": 3.03, "axis": null}, "y": {"datum": 0.33, "axis": null}}}
   ]},
  {"width": 310, "height": 245,
   "title": {"text": "OVA/FITC-Mannan-NPs", "subtitle": "Data.008", "dx": -9, "offset": -5, "subtitlePadding": 10},
   "resolve": {"axis": {"x": "independent", "y": "independent"}},
   "layer": [
    {"data": {"name": "one"}, "mark": {"type": "text", "text": ""},
     "encoding": {"x": {"datum": 0, "axis": {"orient": "bottom", "values": [0.301,0.477,0.602,0.699,0.778,0.845,0.903,0.954,1.301,1.477,1.602,1.699,1.778,1.845,1.903,1.954,2.301,2.477,2.602,2.699,2.778,2.845,2.903,2.954,3.301,3.477,3.602,3.699,3.778,3.845,3.903,3.954], "labels": false, "title": null, "domain": false, "tickSize": 4}},
      "y": {"datum": 0, "axis": {"orient": "left", "values": [0.301,0.477,0.602,0.699,0.778,0.845,0.903,0.954,1.301,1.477,1.602,1.699,1.778,1.845,1.903,1.954,2.301,2.477,2.602,2.699,2.778,2.845,2.903,2.954,3.301,3.477,3.602,3.699,3.778,3.845,3.903,3.954], "labels": false, "title": null, "domain": false, "tickSize": 4}}}},
    {"data": {"name": "b2"}, "mark": {"type": "area", "interpolate": "monotone"},
     "encoding": {
      "x": {"field": "x", "type": "quantitative", "scale": {"domain": [0, 4], "nice": false, "zero": false},
        "axis": {"orient": "bottom", "title": "FL1-Height", "values": [0,1,2,3,4], "labelExpr": "'10' + ['⁰','¹','²','³','⁴'][datum.value]",
          "tickSize": 7, "labelFontSize": 15, "labelPadding": 8, "titleFontSize": 16, "titleFontWeight": "bold", "titlePadding": 12}},
      "y": {"field": "lo", "type": "quantitative", "scale": {"domain": [0, 4], "nice": false, "zero": false},
        "axis": {"orient": "left", "title": "FL3-Height", "values": [0,1,2,3,4], "labelExpr": "'10' + ['⁰','¹','²','³','⁴'][datum.value]",
          "tickSize": 7, "labelAngle": -90, "labelFontSize": 15, "labelPadding": 10, "titleFontSize": 16, "titleFontWeight": "bold", "titlePadding": 8}},
      "y2": {"field": "hi"}}},
    {"data": {"name": "s2"}, "mark": {"type": "point", "shape": "square", "size": 5, "filled": true, "opacity": 1},
     "encoding": {"x": {"field": "x", "type": "quantitative", "axis": null}, "y": {"field": "y", "type": "quantitative", "axis": null}}},
    {"data": {"name": "one"}, "mark": {"type": "rule", "strokeWidth": 1}, "encoding": {"x": {"datum": 1.19, "axis": null}, "y": {"datum": 0, "axis": null}, "y2": {"datum": 4}}},
    {"data": {"name": "one"}, "mark": {"type": "rule", "strokeWidth": 1}, "encoding": {"y": {"datum": 1.27, "axis": null}, "x": {"datum": 0, "axis": null}, "x2": {"datum": 4}}},
    {"data": {"name": "one"}, "mark": {"type": "text", "text": "39%", "fontSize": 24}, "encoding": {"x": {"datum": 0.53, "axis": null}, "y": {"datum": 3.6, "axis": null}}},
    {"data": {"name": "one"}, "mark": {"type": "text", "text": "55.1%", "fontSize": 24}, "encoding": {"x": {"datum": 3.11, "axis": null}, "y": {"datum": 3.6, "axis": null}}},
    {"data": {"name": "one"}, "mark": {"type": "text", "text": "3.3%", "fontSize": 24}, "encoding": {"x": {"datum": 0.71, "axis": null}, "y": {"datum": 0.33, "axis": null}}},
    {"data": {"name": "one"}, "mark": {"type": "text", "text": "1.7%", "fontSize": 24}, "encoding": {"x": {"datum": 3.14, "axis": null}, "y": {"datum": 0.33, "axis": null}}}
   ]}
 ], "spacing": 99, "bounds": "flush"}
],
"spacing": 43
}
